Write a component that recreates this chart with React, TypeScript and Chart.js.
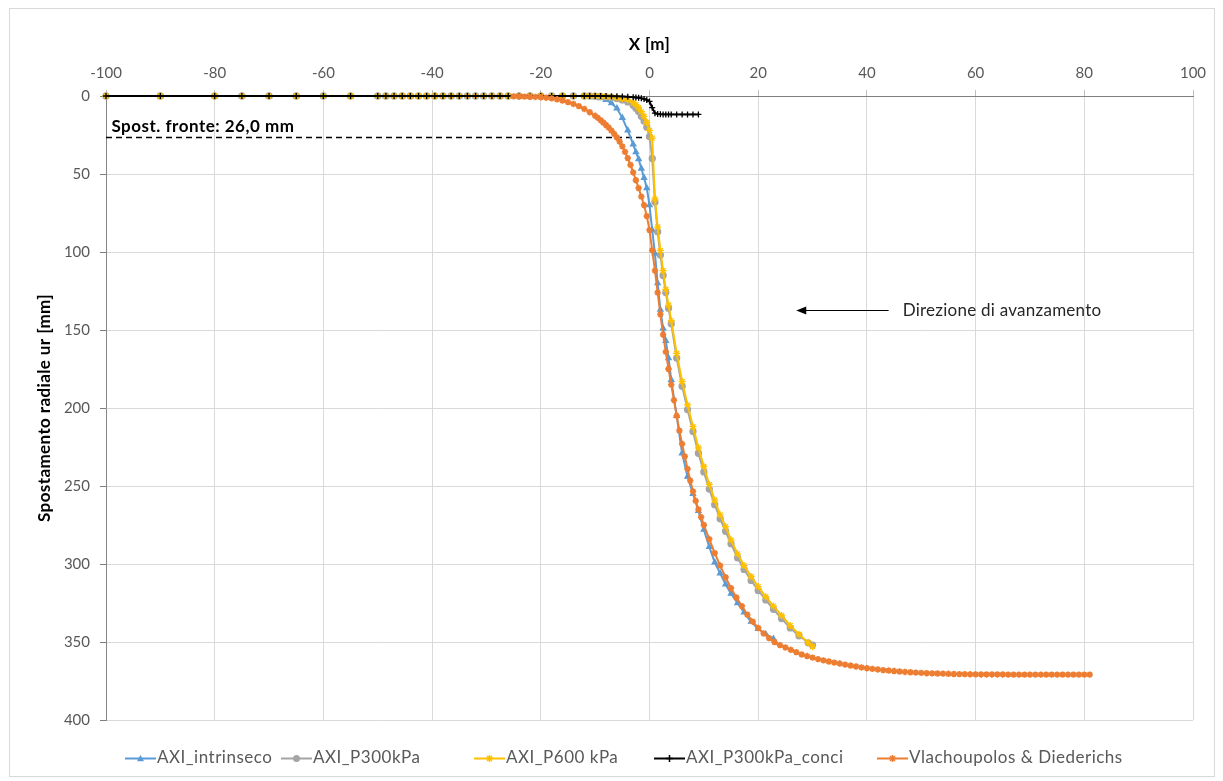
import React, { useEffect, useRef } from "react";
import { Chart, registerables } from "chart.js";

Chart.register(...registerables);

const FONT = "Lato, 'Open Sans', sans-serif";

// ---- data (X in m, ur in mm) ----
// far field mesh shared by the AXI models (all ~0 displacement)
const farFieldX = [-100, -90, -80, -75, -70, -65, -60, -55, -50, -48.5, -47, -45.5, -44, -42.5, -41, -39.5, -38, -36.5, -35, -33.5, -32, -30.5, -29, -27.5, -26, -24, -22, -20, -18, -16, -14, -12];
const farFieldY = [0, 0, 0, 0, 0, 0, 0, 0, 0, 0, 0, 0, 0, 0, 0, 0, 0, 0, 0, 0, 0, 0, 0, 0, 0, 0, 0, 0, 0, 0, 0, 0];

// near-face mesh of the AXI models
const nearX = [-11, -10, -9, -8, -7, -6, -5, -4, -3, -2.5, -2, -1.5, -1, -0.5, 0, 0.5, 1, 1.5, 2, 2.5, 3, 3.5, 4, 5, 6, 7, 8, 9, 10, 11, 12, 13, 14, 15, 16.2, 17.4, 18.7, 20, 21.4, 22.8, 24.3, 25.9, 27.5, 29.2, 30];

const intrinsecoY = [0.3, 0.7, 1.3, 2.5, 4.6, 7.9, 14, 22, 31, 36, 40.5, 46.5, 52.5, 59, 70, 86, 101, 120, 137, 149, 157, 168, 182, 205, 229, 244, 255, 266, 278, 289, 299, 306, 313, 319, 325, 331, 337, 341.5, 345, 348];
const p300Y = [0, 0.1, 0.3, 0.6, 1, 1.6, 2.5, 3.8, 6, 7.8, 10, 13, 16, 20, 26, 40, 68, 87, 102, 115, 126, 136, 146, 168, 186, 201, 215, 229, 241, 252, 262, 271, 279, 287, 296, 303.5, 310.5, 317, 323, 329, 335, 341, 346, 350.5, 352];
const p600Y = [0, 0, 0.1, 0.3, 0.6, 1, 1.6, 2.5, 4.2, 5.6, 7.5, 10, 13, 17, 22, 27, 66, 84, 99, 112, 124, 134, 144, 165, 183, 198, 212, 225.5, 237.5, 249, 259, 268.5, 276, 284.5, 293.5, 301, 308, 314.5, 321, 327, 333, 339.5, 345, 350.5, 353];
const p300ConciY = [0, 0, 0, 0, 0.1, 0.2, 0.3, 0.5, 0.8, 1, 1.2, 1.5, 1.9, 2.5, 3.5, 7.5, 11, 11.5, 11.7, 11.8, 11.8, 11.8, 11.8, 11.8, 11.8, 11.8, 11.8, 11.8];

// Vlachopoulos & Diederichs curve
const vdX = [-25, -24, -23, -22, -21, -20, -19, -18, -17, -16, -15, -14, -13, -12, -11,
  -10, -9.5, -9, -8.5, -8, -7.5, -7, -6.5, -6, -5.5, -5, -4.5, -4, -3.5, -3, -2.5, -2, -1.5, -1, -0.5,
  0, 0.5, 1, 1.5, 2, 2.5, 3, 3.5, 4, 4.5, 5, 5.5, 6, 6.5, 7, 7.5, 8, 8.5, 9, 9.5, 10,
  11, 12, 13, 14, 15, 16, 17, 18, 19, 20, 21, 22, 23, 24, 25, 26, 27, 28, 29, 30,
  31, 32, 33, 34, 35, 36, 37, 38, 39, 40, 41, 42, 43, 44, 45, 46, 47, 48, 49, 50,
  51, 52, 53, 54, 55, 56, 57, 58, 59, 60, 61, 62, 63, 64, 65, 66, 67, 68, 69, 70,
  71, 72, 73, 74, 75, 76, 77, 78, 79, 80, 81];
const vdY = [0.2, 0.3, 0.4, 0.5, 0.6, 0.8, 1.1, 1.5, 2.1, 2.9, 3.9, 5.1, 6.5, 8.3, 10.4,
  12.7, 14, 15.5, 17, 18.6, 20.3, 22.2, 24.3, 26.6, 29.3, 32.3, 35.8, 39.8, 44.2, 49, 54, 59, 64.5, 70, 77,
  86, 99, 112, 126, 140, 153, 164, 175, 185, 195, 205, 214.5, 223, 231, 239, 246.5, 253.5, 259.5, 265, 270, 275,
  284, 293, 301, 308.5, 315.5, 321.5, 327, 332.5, 337, 341, 344.5, 347.5, 350, 352, 353.5, 355, 356.5, 358, 359, 360,
  361, 361.8, 362.5, 363.2, 363.8, 364.5, 365.1, 365.7, 366.3, 366.8, 367.2, 367.6, 368, 368.3, 368.6, 368.9, 369.2, 369.4, 369.6, 369.8,
  370, 370.1, 370.2, 370.3, 370.4, 370.5, 370.6, 370.6, 370.7, 370.7, 370.8, 370.8, 370.8, 370.8, 370.8, 370.9, 370.9, 370.9, 370.9, 370.9,
  370.9, 370.9, 370.9, 370.9, 370.9, 370.9, 370.9, 370.9, 370.9, 370.9, 370.9];

const seriesNames = ["AXI_intrinseco", "AXI_P300kPa", "AXI_P600 kPa", "AXI_P300kPa_conci", "Vlachoupolos & Diederichs"];

// face displacement annotation
const faceDisp = 26.0;
const faceLabel = "Spost. fronte: 26,0 mm";
const advanceLabel = "Direzione di avanzamento";
const arrowFromX = 44;
const arrowToX = 27;
const arrowY = 137;

const xTitle = "X [m]";
const yTitle = "Spostamento radiale ur [mm]";

// ---- styles ----
const COLORS = ["#5B9BD5", "#A5A5A5", "#FFC000", "#000000", "#ED7D31"];
const MARKERS = ["triangle", "circle", "star", "cross", "star"];
const LEGEND_LINE_X = [125, 281, 474, 654, 877];

function pts(xs: number[], ys: number[]) {
  const out: { x: number; y: number }[] = [];
  for (let i = 0; i < ys.length; i++) out.push({ x: xs[i], y: ys[i] });
  return out;
}

function setSpacing(ctx: any, v: string) {
  try { ctx.letterSpacing = v; } catch (e) { /* ignore */ }
}

function drawMarker(ctx: CanvasRenderingContext2D, style: string, x: number, y: number, r: number, color: string) {
  ctx.save();
  ctx.fillStyle = color;
  ctx.strokeStyle = color;
  ctx.lineWidth = 1.5;
  ctx.beginPath();
  if (style === "triangle") {
    ctx.moveTo(x, y - r);
    ctx.lineTo(x + r, y + r * 0.8);
    ctx.lineTo(x - r, y + r * 0.8);
    ctx.closePath();
    ctx.fill();
  } else if (style === "circle") {
    ctx.arc(x, y, r, 0, Math.PI * 2);
    ctx.fill();
  } else if (style === "cross") {
    ctx.moveTo(x - r, y);
    ctx.lineTo(x + r, y);
    ctx.moveTo(x, y - r);
    ctx.lineTo(x, y + r);
    ctx.stroke();
  } else {
    ctx.moveTo(x - r, y);
    ctx.lineTo(x + r, y);
    ctx.moveTo(x, y - r);
    ctx.lineTo(x, y + r);
    const d = r * 0.7;
    ctx.moveTo(x - d, y - d);
    ctx.lineTo(x + d, y + d);
    ctx.moveTo(x - d, y + d);
    ctx.lineTo(x + d, y - d);
    ctx.stroke();
  }
  ctx.restore();
}

const annotPlugin = {
  id: "annot",
  beforeDatasetsDraw(chart: any) {
    const ctx = chart.ctx as CanvasRenderingContext2D;
    const xs = chart.scales.x;
    const ys = chart.scales.y;
    ctx.save();
    ctx.strokeStyle = "#000";
    ctx.lineWidth = 1.3;
    ctx.setLineDash([6, 4]);
    ctx.beginPath();
    const yy = Math.round(ys.getPixelForValue(faceDisp)) + 0.5;
    ctx.moveTo(xs.getPixelForValue(-100), yy);
    ctx.lineTo(xs.getPixelForValue(0), yy);
    ctx.stroke();
    ctx.restore();
  },
  afterDraw(chart: any) {
    const ctx = chart.ctx as CanvasRenderingContext2D;
    const xs = chart.scales.x;
    const ys = chart.scales.y;
    const area = chart.chartArea;
    ctx.save();
    // face label
    ctx.fillStyle = "#000";
    ctx.font = `bold 17px ${FONT}`;
    setSpacing(ctx, "0.5px");
    ctx.textAlign = "left";
    ctx.textBaseline = "alphabetic";
    ctx.fillText(faceLabel, xs.getPixelForValue(-99), ys.getPixelForValue(faceDisp) - 5);

    // arrow
    const ay = Math.round(ys.getPixelForValue(arrowY)) + 0.5;
    const ax1 = xs.getPixelForValue(arrowFromX);
    const ax2 = xs.getPixelForValue(arrowToX);
    ctx.strokeStyle = "#000";
    ctx.lineWidth = 1;
    ctx.beginPath();
    ctx.moveTo(ax1, ay);
    ctx.lineTo(ax2 + 8, ay);
    ctx.stroke();
    ctx.beginPath();
    ctx.moveTo(ax2, ay);
    ctx.lineTo(ax2 + 10, ay - 4);
    ctx.lineTo(ax2 + 10, ay + 4);
    ctx.closePath();
    ctx.fillStyle = "#000";
    ctx.fill();
    ctx.fillStyle = "#262626";
    ctx.font = `17px ${FONT}`;
    setSpacing(ctx, "0.25px");
    ctx.textBaseline = "middle";
    ctx.fillText(advanceLabel, ax1 + 14, ay);

    // axis titles
    ctx.fillStyle = "#000";
    ctx.font = `bold 17px ${FONT}`;
    setSpacing(ctx, "0.4px");
    ctx.textAlign = "center";
    ctx.textBaseline = "middle";
    ctx.fillText(xTitle, (area.left + area.right) / 2, 45);
    ctx.save();
    ctx.translate(45, (area.top + area.bottom) / 2);
    ctx.rotate(-Math.PI / 2);
    ctx.fillText(yTitle, 0, 0);
    ctx.restore();

    // legend
    ctx.font = `17px ${FONT}`;
    setSpacing(ctx, "0.5px");
    ctx.textAlign = "left";
    ctx.textBaseline = "middle";
    const ly = 758;
    seriesNames.forEach((name, i) => {
      const lx = LEGEND_LINE_X[i];
      ctx.strokeStyle = COLORS[i];
      ctx.lineWidth = 2;
      ctx.beginPath();
      ctx.moveTo(lx, ly + 0.5);
      ctx.lineTo(lx + 31, ly + 0.5);
      ctx.stroke();
      drawMarker(ctx, MARKERS[i], lx + 15.5, ly + 0.5, 3.5, COLORS[i]);
      ctx.fillStyle = "#595959";
      ctx.fillText(name, lx + 32, ly);
    });
    setSpacing(ctx, "0px");

    // chart border
    ctx.strokeStyle = "#d9d9d9";
    ctx.lineWidth = 1;
    ctx.strokeRect(9.5, 8.5, 1205, 768);
    ctx.restore();
  },
};

export default function App() {
  const ref = useRef<HTMLCanvasElement>(null);
  useEffect(() => {
    const canvas = ref.current!;
    const series = [
      pts(farFieldX.concat(nearX), farFieldY.concat(intrinsecoY)),
      pts(farFieldX.concat(nearX), farFieldY.concat(p300Y)),
      pts(farFieldX.concat(nearX), farFieldY.concat(p600Y)),
      pts(farFieldX.concat(nearX), farFieldY.concat(p300ConciY)),
      pts(vdX, vdY),
    ];
    const radii = [3, 3, 3.5, 3, 3.2];
    const orders = [5, 4, 3, 2, 1];
    const datasets = series.map((d, i) => ({
      label: seriesNames[i],
      data: d,
      borderColor: COLORS[i],
      backgroundColor: COLORS[i],
      pointBackgroundColor: COLORS[i],
      pointBorderColor: COLORS[i],
      borderWidth: 2,
      pointStyle: MARKERS[i],
      pointRadius: radii[i],
      pointBorderWidth: i === 4 ? 1.8 : 1.3,
      tension: 0,
      clip: false,
      order: orders[i],
    }));
    const chart = new Chart(canvas, {
      type: "line",
      data: { datasets } as any,
      options: {
        responsive: false,
        animation: false,
        devicePixelRatio: 1,
        layout: { padding: { left: 0, top: 0, right: 30, bottom: 61 } },
        plugins: { legend: { display: false }, tooltip: { enabled: false } },
        scales: {
          x: {
            type: "linear",
            position: "top",
            min: -100,
            max: 100,
            ticks: { stepSize: 20, color: "#595959", font: { family: FONT, size: 15 }, padding: 8, maxRotation: 0, autoSkip: false },
            grid: { color: "#d9d9d9", tickLength: 6, tickColor: "#bfbfbf" },
            border: { color: "#7f7f7f" },
            afterFit: (s: any) => { s.height = 96; },
          },
          y: {
            type: "linear",
            reverse: true,
            min: 0,
            max: 400,
            ticks: { stepSize: 50, color: "#595959", font: { family: FONT, size: 15 }, padding: 10 },
            grid: { color: "#d9d9d9", tickLength: 6, tickColor: "#7f7f7f" },
            border: { color: "#868686" },
            afterFit: (s: any) => { s.width = 106; },
          },
        },
      } as any,
      plugins: [annotPlugin],
    });
    return () => chart.destroy();
  }, []);
  return (
    <div style={{ position: "absolute", left: 0, top: 0, width: 1223, height: 781, background: "#fff" }}>
      <canvas ref={ref} width={1223} height={781} style={{ width: 1223, height: 781, display: "block" }} />
    </div>
  );
}
